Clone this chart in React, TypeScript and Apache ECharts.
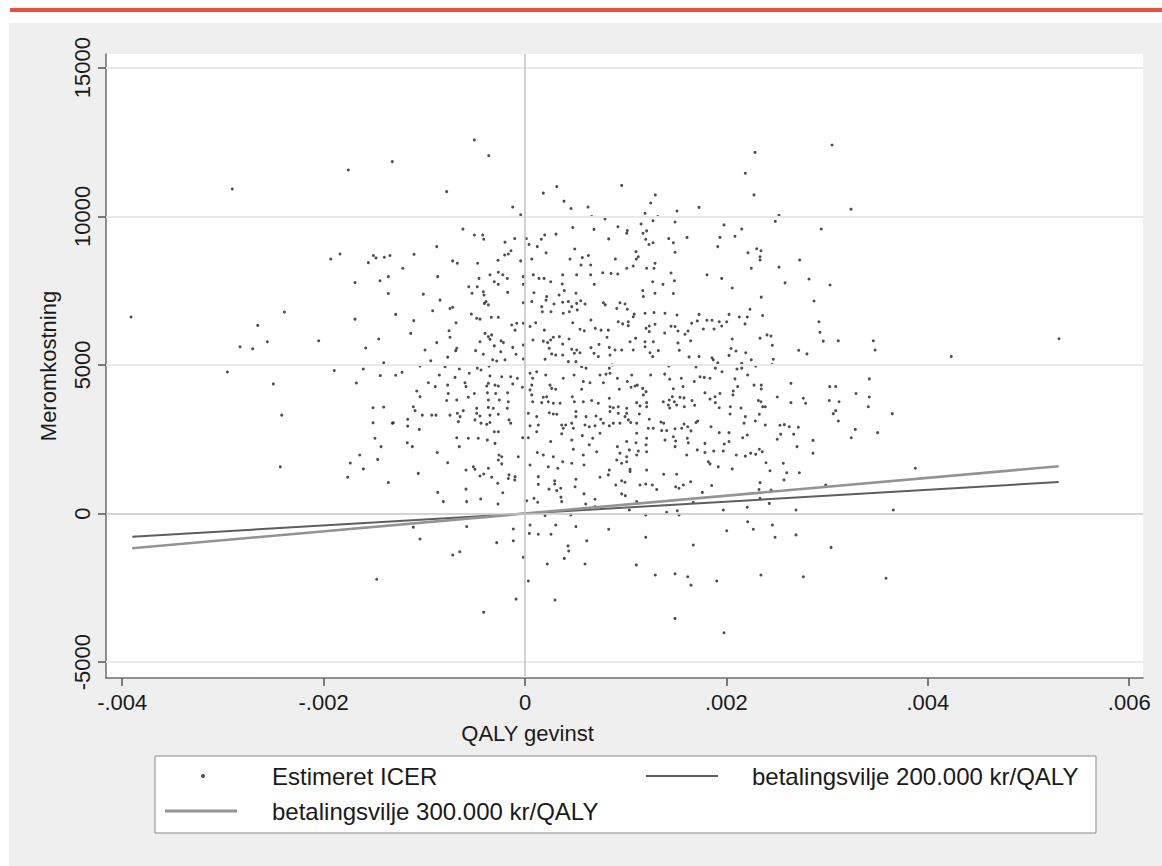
import React, { useEffect, useRef } from "react";
import * as echarts from "echarts";

// ---------- data ----------
const xTickValues = [-0.004, -0.002, 0, 0.002, 0.004, 0.006];
const xTickLabels = ["-.004", "-.002", "0", ".002", ".004", ".006"];
const yTickValues = [-5000, 0, 5000, 10000, 15000];
const yTickLabels = ["-5000", "0", "5000", "10000", "15000"];
const gridLineValues = [-5000, 5000, 10000, 15000];

const seriesNames = [
  "Estimeret ICER",
  "betalingsvilje 200.000 kr/QALY",
  "betalingsvilje 300.000 kr/QALY",
];

// threshold lines (willingness to pay) endpoints
const wtp200Line: [number, number][] = [[-0.0039, -780], [0.0053, 1060]];
const wtp300Line: [number, number][] = [[-0.0039, -1170], [0.0053, 1590]];

// bootstrapped ICER estimates [QALY gain, extra cost]
const icerPoints: [number, number][] = [
  [-0.002907,10920],[-0.001755,11560],[-0.001318,11840],[-0.001929,8560],[-0.001837,8730],[-0.001556,8440],[-0.001506,8680],[-0.00148,8600],[-0.001397,8620],[-0.001341,8680],
  [-0.003912,6610],[-0.002956,4760],[-0.00283,5610],[-0.002704,5540],[-0.002654,6330],[-0.002559,5780],[-0.002499,4360],[-0.002416,3310],[-0.00239,6780],[-0.00243,1570],
  [-0.002049,5810],[-0.001894,4810],[-0.001688,7770],[-0.001688,6540],[-0.001675,4390],[-0.001606,4860],[-0.001582,5570],[-0.00144,7830],[-0.001357,7970],[-0.001357,7400],
  [-0.001453,5870],[-0.001403,5070],[-0.001437,4640],[-0.001284,6700],[-0.001284,4650],[-0.001509,3560],[-0.001403,3580],[-0.001509,3050],[-0.001308,3050],[-0.00149,2530],
  [-0.00143,2250],[-0.001641,1970],[-0.001463,1820],[-0.001735,1700],[-0.001606,1500],[-0.001761,1220],
  [-0.000503,12570],[-0.00036,12040],[-0.000778,10830],[-0.000122,10310],[-0.000043,10050],[0.000182,10780],[0.000315,11000],[0.00096,11040],[0.000387,10510],[0.000457,10260],
  [0.000626,10310],[0.000662,9990],[0.000794,9910],[0.000923,9650],[0.001016,9520],[0.001294,10720],[0.001248,10450],[0.001192,10100],[0.001318,9990],[0.001271,9850],
  [0.001152,9740],[0.001509,10180],[0.00149,9810],[0.000474,9620],[0.000685,9560],[0.000308,9400],[0.000196,9370],[0.000162,9230],[0.000122,8980],[0.000013,9250],
  [0.00004,9050],[0.000209,8770],[0.000067,8560],[-0.000043,8500],[-0.000102,9250],[-0.000199,9130],[-0.000139,8840],[-0.000166,8730],[-0.000202,8700],[-0.000268,8520],
  [-0.00042,9370],[-0.000503,9370],[-0.00041,9230],[-0.000616,9570],[-0.000877,8980],[-0.001102,8720],[-0.000718,8500],[-0.000672,8420],[-0.00047,8420],[-0.001214,8250],
  [0.000447,8560],[0.000569,8610],[0.000629,8680],[0.000556,8360],[0.000652,8360],[0.000494,8900],[0.000831,9240],[0.000897,8560],[0.00101,9430],[0.001102,8810],
  [0.001125,8640],[0.001105,8560],[0.001172,9430],[0.001208,9510],[0.001199,9230],[0.001231,9050],[0.001271,9110],[0.001427,9250],[0.001473,9110],[0.00149,8790],
  [0.001291,8420],[0.001281,8250],[0.001075,8330],[0.00101,8250],[0.001208,8250],
  [0.002284,12150],[0.003049,12400],[0.002188,11450],[0.002274,10720],[0.001728,10300],[0.003237,10240],[0.002522,10030],[0.002485,9830],[0.001976,9710],[0.002152,9570],
  [0.002942,9570],[0.001609,9290],[0.001936,9290],[0.002085,9330],[0.001914,8980],[0.002214,8770],[0.002301,8910],[0.002343,8840],[0.002334,8640],[0.002334,8530],
  [0.002728,8530],[0.002247,8250],[0.002522,8290],
  [0.00145,8090],[0.001483,7830],[0.00137,7710],[0.001473,7400],[0.001807,8030],[0.001953,7910],[0.002058,7590],[0.002582,7760],[0.00282,7890],[0.003029,7690],
  [0.002346,7280],[0.00287,7150],[0.001509,6680],[0.001728,6700],[0.001387,6070],[0.00145,6300],[0.001519,6140],[0.001589,6030],[0.001619,6140],[0.001655,6400],
  [0.001711,6480],[0.001771,6210],[0.001807,6500],[0.001857,6500],[0.001877,6210],[0.001929,6450],[0.001953,6310],[0.002003,6450],[0.002026,6700],[0.002128,6610],
  [0.002207,6610],[0.002185,6380],[0.002234,6870],[0.00236,6660],[0.002919,6450],[0.002929,6100],[0.002403,6010],[0.002443,5970],[0.002334,5900],[0.002456,5660],
  [0.002058,5870],[0.001645,5810],[0.001519,5740],[0.001532,5490],[0.002046,5550],[0.002095,5470],[0.002192,5410],[0.002026,5320],[0.001728,5280],[0.001629,5270],
  [0.001857,5240],[0.00187,5170],[0.001914,5070],[0.00189,4890],[0.001956,4770],[0.001698,4930],[0.001427,4960],[0.002962,5800],[0.003111,5810],[0.003459,5810],
  [0.003476,5500],[0.002718,5490],[0.0028,5370],[0.002247,5170],[0.002291,4960],[0.002453,5010],[0.002466,5190],[0.002152,5050],[0.002152,4890],[0.002105,4860],
  [0.002211,4660],[0.004233,5280],[0.001387,4690],[0.001437,4520],[0.001552,4550],[0.001569,4270],[0.001681,4440],[0.001738,4600],[0.00178,4580],[0.001837,4550],
  [0.002085,4530],[0.002112,4270],[0.002068,4120],[0.002065,3990],[0.002274,4320],[0.002346,4320],[0.002346,4190],[0.002641,4380],[0.003026,4270],[0.003085,4270],
  [0.003419,4530],[0.003287,4040],[0.003419,3920],[0.003409,3590],[0.003647,3360],[0.001473,4200],[0.001463,3930],[0.001539,3910],[0.001579,3890],[0.001483,3760],
  [0.001423,3650],[0.001506,3650],[0.001582,3590],[0.001437,3550],[0.001658,3800],[0.001685,3640],[0.001787,4060],[0.001837,3850],[0.001887,3930],[0.00189,3730],
  [0.001936,4040],[0.001929,3560],[0.002039,3590],[0.002036,3350],[0.002145,3550],[0.002317,3800],[0.002343,3760],[0.00236,3590],[0.002386,3590],[0.002327,3340],
  [0.002188,3260],[0.002175,3040],[0.002287,3110],[0.002386,2980],[0.002505,3920],[0.002641,3730],[0.002764,3880],[0.002787,3710],[0.003022,3800],[0.003118,3760],
  [0.003085,3460],[0.003061,3360],[0.003111,3110],[0.002532,2970],[0.002575,2990],[0.002624,2920],[0.002714,2900],[0.002539,2670],[0.002505,2500],[0.002668,2670],
  [0.002701,2250],[0.00286,2460],[0.00286,2030],[0.00328,2830],[0.00324,2550],[0.003502,2720],[0.003876,1520],[0.00135,3080],[0.001377,3040],[0.001407,2790],
  [0.00149,2850],[0.001556,2870],[0.001579,3010],[0.001616,2920],[0.001648,2780],[0.001698,3060],[0.001715,3110],[0.001847,2920],[0.001929,2720],[0.002026,2720],
  [0.002026,2420],[0.001979,2340],[0.002162,2550],[0.002207,2640],[0.001473,2580],[0.001496,2440],[0.001612,2530],[0.001622,2380],[0.00149,2250],[0.001787,2360],
  [0.001711,2140],[0.001787,2050],[0.001874,2100],[0.001969,2100],[0.002098,1970],[0.002188,1930],[0.002241,2030],[0.002291,1990],[0.002327,2160],[0.002356,2080],
  [0.001606,1970],[0.00182,1740],[0.001837,1670],[0.001919,1570],[0.002058,1500],[0.002393,1710],[0.002433,1440],[0.002565,1690],[0.002599,1370],[0.002724,1370],
  [0.001377,1320],[0.001506,1320],[0.005303,5880],
  [0.001645,1070],[0.001572,960],[0.001496,900],[0.001529,850],[0.001854,940],[0.001761,710],[0.002334,1040],[0.002324,810],[0.002443,790],[0.002572,1130],
  [0.002986,960],[0.001671,380],[0.002334,510],[0.002426,340],[0.001407,40],[0.001512,90],[0.001529,-50],[0.001969,120],[0.002207,210],[0.002691,120],
  [0.003657,120],[0.002211,-280],[0.002456,-390],[0.002003,-580],[0.002267,-530],[0.002483,-800],[0.002691,-720],[0.001671,-1060],[0.003039,-1140],[0.00149,-2030],
  [0.001616,-2130],[0.001648,-2410],[0.001904,-2270],[0.002343,-2070],[0.002764,-2130],[0.003585,-2180],[0.00149,-3530],[0.001976,-4010],
  [-0.00106,1350],[-0.001357,1040],[-0.000867,710],[-0.000811,400],[-0.000586,820],[-0.000579,400],[-0.00044,490],[-0.000268,320],[-0.000221,700],[-0.000271,1020],
  [-0.000331,1220],[-0.00041,1330],[-0.000159,1300],[-0.000102,1130],[0.000017,430],[0.000089,510],[0.000126,380],[0.000132,980],[0.000132,1240],[0.000295,1100],
  [0.000295,990],[0.000238,820],[0.000315,770],[0.000355,850],[0.000357,550],[0.000364,400],[0.000497,900],[0.000506,1150],[0.000586,660],[0.000603,320],
  [0.000695,480],[0.000695,230],[0.000745,1220],[0.000827,1300],[0.000901,960],[0.00096,1100],[0.000993,1050],[0.00096,660],[0.000996,600],[0.001043,1410],
  [0.001142,960],[0.001199,990],[0.001264,960],[0.001308,810],[0.001109,400],[0.000199,-70],[0.000454,-50],[0.001036,120],[0.001199,-50],[-0.001109,-460],
  [-0.001043,-860],[-0.000579,-440],[-0.000116,-520],[-0.000116,-920],[-0.000281,-980],[-0.000718,-1400],[-0.000648,-1290],[-0.000017,-1470],[0.00005,-390],[0.000043,-670],
  [0.000132,-700],[0.000258,-700],[0.000305,-390],[0.000506,-440],[0.000613,-920],[0.000427,-1090],[0.000434,-1260],[0.00039,-1510],[0.000831,-530],[0.001199,-800],
  [0.000221,-1700],[0.000596,-1700],[0.001105,-1730],[0.001294,-2070],[0.000033,-2270],[-0.000089,-2880],[0.000298,-2910],[-0.00041,-3320],[-0.001473,-2210],
  [-0.000867,7970],[-0.000457,7910],[-0.000348,8030],[-0.000265,8120],[-0.000221,8030],[-0.000176,7910],[-0.000305,7800],[-0.000265,7710],[-0.000017,7970],[-0.000017,7710],
  [-0.000559,7630],[-0.000474,7630],[-0.00101,7380],[-0.000526,7410],[-0.000414,7460],[-0.000407,7350],[-0.000172,7440],[-0.000844,7180],[-0.000387,7130],[-0.000364,7020],
  [-0.000404,7070],[-0.000017,7090],[-0.000718,6940],[-0.000745,6900],[-0.000917,6820],[-0.000533,6710],[-0.00048,6570],[-0.000447,6540],[-0.000335,6600],[-0.000265,6600],
  [-0.001105,6490],[-0.000685,6420],[-0.000132,6340],[-0.000099,6170],[-0.000082,6400],[-0.000017,6400],[-0.001135,6060],[-0.000755,6150],[-0.000745,5930],[-0.000397,6060],
  [-0.000364,5950],[-0.000331,6010],[-0.000348,5860],[-0.000238,5810],[-0.000215,5750],[-0.000447,5780],[-0.000877,5750],[-0.000993,5500],[-0.000678,5560],[-0.000688,5480],
  [-0.00049,5480],[-0.000305,5640],[-0.000122,5590],[-0.000241,5440],[-0.000017,5670],[-0.000414,5360],[-0.000768,5260],[-0.000936,5140],[-0.000321,5170],[-0.000281,5130],
  [-0.000199,5170],[-0.000089,5360],[-0.000017,5200],[-0.001043,4960],[-0.000794,4940],[-0.000652,4860],[-0.000474,4890],[-0.000437,4830],[-0.000357,4960],[-0.000553,4720],
  [-0.001221,4750],[-0.000851,4660],[-0.000695,4580],[-0.000348,4630],[-0.000231,4600],[-0.000142,4600],[-0.000076,4550],[-0.00096,4400],[-0.000768,4320],[-0.000596,4400],
  [-0.000586,4270],[-0.00038,4290],[-0.000364,4380],[-0.000298,4320],[-0.000265,4290],[-0.000122,4360],[-0.000027,4250],[-0.000891,4270],[-0.001075,4120],[-0.001043,3930],
  [-0.000762,4040],[-0.000503,4040],[-0.000563,3910],[-0.000374,4060],[-0.000291,4040],[-0.000172,4060],[-0.000678,3820],[-0.000778,3800],[-0.000364,3820],[-0.000255,3820],
  [-0.000166,3760],[-0.001109,3590],[-0.001092,3460],[-0.00102,3310],[-0.000926,3310],[-0.000884,3310],[-0.000745,3310],[-0.000672,3370],[-0.000613,3460],[-0.00048,3540],
  [-0.00048,3370],[-0.000447,3280],[-0.000364,3570],[-0.000315,3540],[-0.000348,3310],[-0.000265,3340],[-0.000176,3540],[-0.001318,3040],[-0.001165,3170],[-0.001165,2940],
  [-0.00105,2830],[-0.000662,3090],[-0.000645,3260],[-0.000497,3150],[-0.000437,3040],[-0.00038,3000],[-0.000348,3060],[-0.000159,3150],[-0.000142,3040],[-0.000305,2750],
  [-0.000265,2750],[-0.000678,2550],[-0.000563,2530],[-0.000464,2530],[-0.000374,2470],[-0.000298,2360],[-0.000023,2550],[-0.001169,2380],[-0.001119,2250],[-0.000871,2050],
  [-0.000652,2250],[-0.000258,1970],[-0.000231,1910],[-0.000265,1800],[-0.000231,1670],[-0.000067,1910],[-0.000768,1710],[-0.000586,1460],[-0.000513,1570],[-0.000497,1490],
  [-0.000364,1520],[-0.000447,1260],[-0.000099,1240],[-0.000166,1180],
  [0.000082,8030],[0.000139,7910],[0.000189,7910],[0.000255,7800],[0.000374,8030],[0.000772,8100],[0.000854,8080],[0.000921,8060],[0.00037,7720],[0.000513,8030],
  [0.000652,8030],[0.000688,7710],[0.001268,7800],[0.000089,7430],[0.000215,7300],[0.000338,7350],[0.00039,7500],[0.000506,7410],[0.001169,7500],[0.001175,7300],
  [0.001291,7410],[0.000067,7130],[0.000166,6960],[0.000209,7180],[0.000288,7050],[0.000374,7110],[0.00043,7130],[0.000464,6960],[0.000513,7070],[0.000553,7160],
  [0.000596,7050],[0.000778,7090],[0.000797,7020],[0.000943,7090],[0.000993,7050],[0.000172,6790],[0.000258,6790],[0.00038,6740],[0.00044,6790],[0.000519,6850],
  [0.000911,6900],[0.001016,6870],[0.001085,6710],[0.001192,6740],[0.001281,6760],[0.00139,6740],[0.000106,6420],[0.00005,6290],[0.000192,6170],[0.000474,6420],
  [0.000546,6200],[0.000589,6150],[0.000655,6510],[0.000698,6230],[0.000755,6170],[0.000827,6170],[0.000926,6450],[0.00097,6380],[0.001026,6450],[0.001075,6620],
  [0.001026,6320],[0.001202,6230],[0.001234,6310],[0.001291,6370],[0.001234,6120],[0.00149,6290],[0.000079,5840],[0.000182,5800],[0.000225,5750],[0.000255,5840],
  [0.000281,5930],[0.000341,5950],[0.000374,5700],[0.000437,5870],[0.000241,5560],[0.000464,5530],[0.000513,5500],[0.000546,5410],[0.000655,5580],[0.000735,5690],
  [0.000814,5930],[0.000837,5590],[0.000894,5500],[0.00096,5500],[0.001043,5780],[0.001075,5500],[0.001099,5900],[0.001192,5780],[0.001274,5780],[0.001192,5610],
  [0.001241,5410],[0.001268,5280],[0.001324,5480],[0.000199,5190],[0.000265,5370],[0.000305,5330],[0.000374,5330],[0.00049,5390],[0.000506,5110],[0.00043,5110],
  [0.000685,5390],[0.000728,5280],[0.000844,5330],[0.000867,5000],[0.000563,4940],[0.000606,4890],[0.000837,4890],[0.00005,4720],[0.000116,4770],[0.000076,4550],
  [0.000206,4660],[0.000067,4320],[0.00005,4160],[0.000067,3990],[0.000076,3760],[0.000166,3730],[0.000182,3910],[0.000248,4320],[0.000265,4210],[0.000305,4180],
  [0.00038,4550],[0.000487,4660],[0.000579,4440],[0.000645,4400],[0.000563,4180],[0.000745,4660],[0.000778,4400],[0.000804,4690],[0.000844,4720],[0.000917,4550],
  [0.000936,4180],[0.001016,4440],[0.00106,4660],[0.001053,4250],[0.001092,4290],[0.001115,4320],[0.001169,4210],[0.001202,4100],[0.001175,3990],[0.001248,4660],
  [0.000215,3930],[0.000231,3760],[0.000281,3710],[0.000348,3710],[0.00047,3930],[0.00049,3760],[0.000579,3760],[0.000662,3800],[0.000728,3710],[0.000837,3880],
  [0.000844,3590],[0.000844,3430],[0.000877,3560],[0.000926,3590],[0.00101,3540],[0.00101,3370],[0.001109,3730],[0.001142,3620],[0.001208,3730],[0.001208,3590],
  [0.001373,3760],[0.001433,3820],[0.000033,3370],[0.000116,3260],[0.000241,3390],[0.000281,3350],[0.000315,3340],[0.000506,3430],[0.000506,3260],[0.000606,3260],
  [0.000705,3280],[0.000752,3170],[0.000926,3370],[0.000993,3260],[0.00105,3060],[0.001109,3040],[0.001135,3350],[0.001234,3170],[0.00005,2950],[0.000132,2980],
  [0.000364,2980],[0.000404,2980],[0.000464,3040],[0.00048,2870],[0.00038,2870],[0.000596,2980],[0.000638,2920],[0.000695,2950],[0.000778,3040],[0.000837,2950],
  [0.000877,3040],[0.000943,3040],[0.001026,3150],[0.001224,2870],[0.001274,2870],[0.001357,2790],[0.000033,2550],[0.000116,2750],[0.000255,2420],[0.000364,2680],
  [0.000464,2470],[0.000569,2620],[0.000672,2530],[0.000638,2310],[0.000745,2700],[0.000917,2250],[0.00101,2420],[0.001109,2700],[0.001208,2530],[0.001102,2380],
  [0.001202,2310],[0.00139,2470],[0.000122,2050],[0.000182,1970],[0.000281,1910],[0.00048,2160],[0.000579,1970],[0.000374,1740],[0.000464,1690],[0.000712,2080],
  [0.000911,1800],[0.000943,2030],[0.001036,2140],[0.001125,2100],[0.001109,1970],[0.001208,2080],[0.00101,1740],[0.00096,1690],[0.001043,1490],[0.00101,1910],
  [0.001208,1460],[0.000837,1460],[0.00005,1630],[0.000231,1570],[0.000325,1520],[0.000586,1630],
];

const FONT = "'Liberation Sans', Arial, Helvetica, sans-serif";
const TEXT = "#1a1a1a";
const TICK_FS = 22;
const LEGEND_FS = 24;

export default function App() {
  const ref = useRef<HTMLDivElement | null>(null);

  useEffect(() => {
    if (!ref.current) return;
    const chart = echarts.init(ref.current, null, { renderer: "svg", width: 1162, height: 866 });

    const fmtX = (v: number) => {
      const i = xTickValues.findIndex((t) => Math.abs(t - v) < 1e-9);
      return i >= 0 ? xTickLabels[i] : "";
    };
    const fmtY = (v: number) => {
      const i = yTickValues.findIndex((t) => Math.abs(t - v) < 1e-6);
      return i >= 0 ? yTickLabels[i] : "";
    };

    chart.setOption({
      animation: false,
      backgroundColor: "transparent",
      textStyle: { fontFamily: FONT },
      grid: {
        left: 106,
        top: 54,
        width: 1037,
        height: 624,
        show: true,
        backgroundColor: "#ffffff",
        borderWidth: 0,
      },
      xAxis: {
        type: "value",
        min: -0.004161,
        max: 0.006137,
        name: "QALY gevinst",
        nameLocation: "middle",
        nameGap: 44,
        nameTextStyle: { fontSize: TICK_FS, color: TEXT, fontFamily: FONT, padding: [0, 194, 0, 0] },
        axisLine: { show: true, onZero: false, lineStyle: { color: "#6e6e6e", width: 1.5 } },
        axisTick: { show: true, customValues: xTickValues, length: 8, lineStyle: { color: "#555", width: 1.5 } },
        axisLabel: {
          show: true,
          customValues: xTickValues,
          formatter: fmtX,
          fontSize: TICK_FS,
          color: TEXT,
          fontFamily: FONT,
          margin: 13,
        },
        splitLine: { show: false },
      },
      yAxis: {
        type: "value",
        min: -5535,
        max: 15461,
        name: "Meromkostning",
        nameLocation: "middle",
        nameGap: 47,
        nameRotate: 90,
        nameTextStyle: { fontSize: TICK_FS, color: TEXT, fontFamily: FONT },
        axisLine: { show: true, onZero: false, lineStyle: { color: "#6e6e6e", width: 1.5 } },
        axisTick: { show: true, customValues: yTickValues, length: 8, lineStyle: { color: "#555", width: 1.5 } },
        axisLabel: {
          show: true,
          customValues: yTickValues,
          formatter: fmtY,
          rotate: 90,
          fontSize: TICK_FS,
          color: TEXT,
          fontFamily: FONT,
          margin: 13,
        },
        splitLine: { show: false },
      },
      legend: [
        {
          data: [{ name: seriesNames[0], icon: "circle" }],
          left: 201,
          top: 764,
          padding: 0,
          itemWidth: 4,
          itemHeight: 4,
          selectedMode: false,
          textStyle: { fontSize: LEGEND_FS, color: TEXT, fontFamily: FONT, padding: [0, 0, 0, 62] },
        },
        {
          data: [{ name: seriesNames[1], icon: "rect" }],
          left: 646,
          top: 764,
          padding: 0,
          itemWidth: 72,
          itemHeight: 2,
          selectedMode: false,
          textStyle: { fontSize: LEGEND_FS, color: TEXT, fontFamily: FONT, padding: [0, 0, 0, 29] },
        },
        {
          data: [{ name: seriesNames[2], icon: "rect" }],
          left: 165,
          top: 799,
          padding: 0,
          itemWidth: 72,
          itemHeight: 3,
          selectedMode: false,
          textStyle: { fontSize: LEGEND_FS, color: TEXT, fontFamily: FONT, padding: [0, 0, 0, 30] },
        },
      ],
      graphic: [
        {
          type: "rect",
          z: 0,
          shape: { x: 155, y: 756, width: 941, height: 77 },
          style: { fill: "#ffffff", stroke: "#8a8a8a", lineWidth: 1 },
        },
      ],
      series: [
        {
          name: "refs",
          type: "line",
          data: [],
          silent: true,
          z: 1,
          markLine: {
            silent: true,
            symbol: "none",
            label: { show: false },
            data: [
              ...gridLineValues.map((v) => ({ yAxis: v, lineStyle: { color: "#e9e9e9", width: 2, type: "solid" } })),
              { yAxis: 0, lineStyle: { color: "#c6c6c6", width: 1.6, type: "solid" } },
              { xAxis: 0, lineStyle: { color: "#c6c6c6", width: 1.6, type: "solid" } },
            ],
          },
        },
        {
          name: seriesNames[0],
          type: "scatter",
          data: icerPoints,
          symbol: "circle",
          symbolSize: 3,
          z: 3,
          itemStyle: { color: "#222222" },
        },
        {
          name: seriesNames[1],
          type: "line",
          data: wtp200Line,
          symbol: "none",
          showSymbol: false,
          z: 4,
          lineStyle: { color: "#5e5e5e", width: 2 },
          itemStyle: { color: "#5e5e5e" },
        },
        {
          name: seriesNames[2],
          type: "line",
          data: wtp300Line,
          symbol: "none",
          showSymbol: false,
          z: 4,
          lineStyle: { color: "#939393", width: 2.6 },
          itemStyle: { color: "#939393" },
        },
      ],
    });

    return () => chart.dispose();
  }, []);

  return (
    <div style={{ position: "fixed", left: 0, top: 0, width: 1162, height: 866, background: "#ffffff", overflow: "hidden" }}>
      <div style={{ position: "absolute", left: 10, top: 8, width: 1152, height: 4, background: "#f24c3d" }} />
      <div style={{ position: "absolute", left: 9, top: 23, right: 0, bottom: 0, background: "#efefef" }} />
      <div ref={ref} style={{ position: "absolute", left: 0, top: 0, width: 1162, height: 866 }} />
    </div>
  );
}
